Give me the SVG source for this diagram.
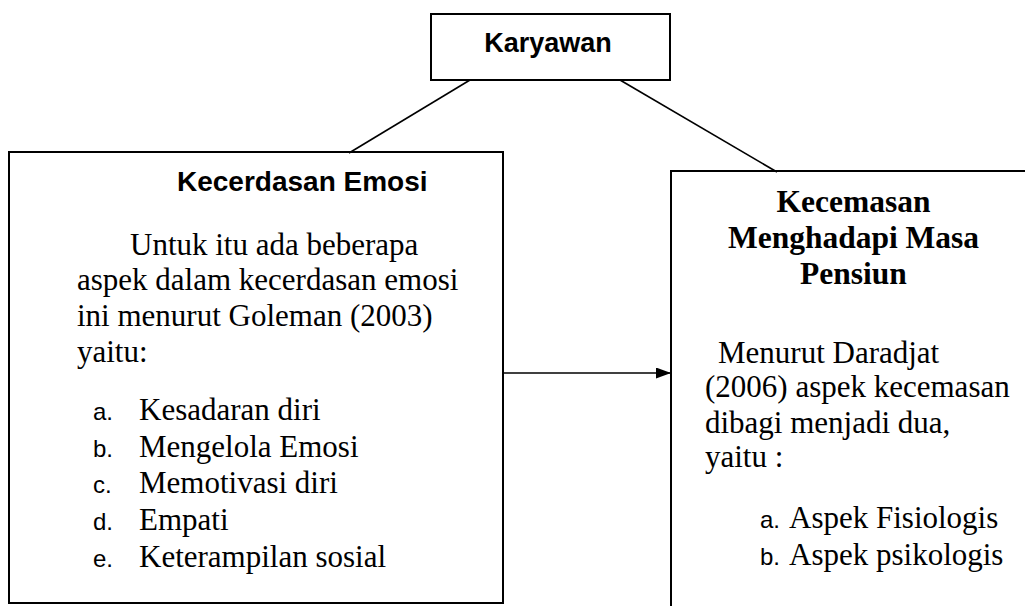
<svg xmlns="http://www.w3.org/2000/svg" width="1025" height="606" viewBox="0 0 1025 606">
<style>
.box{fill:none;stroke:#000;stroke-width:2}
.ln{stroke:#000;stroke-width:1.6;fill:none}
.ha{font-family:"Liberation Sans",Arial,sans-serif;font-weight:bold;fill:#000}
.tm{font-family:"Liberation Serif","Times New Roman",serif;font-size:31px;fill:#000}
.tb{font-family:"Liberation Serif","Times New Roman",serif;font-size:31.5px;font-weight:bold;fill:#000}
.lb{font-family:"Liberation Sans",Arial,sans-serif;font-size:24px;fill:#000}
</style>
<defs>
<marker id="arr" markerWidth="15" markerHeight="11" refX="15" refY="5.5" orient="auto" markerUnits="userSpaceOnUse">
<path d="M0,0 L15,5.5 L0,11 Z" fill="#000"/>
</marker>
</defs>
<rect width="1025" height="606" fill="#fff"/>
<g id="connectors">
<line class="ln" x1="470" y1="80" x2="349" y2="153"/>
<line class="ln" x1="620" y1="80" x2="777" y2="172"/>
<line class="ln" x1="503" y1="373" x2="671" y2="373" marker-end="url(#arr)"/>
</g>
<g id="karyawan">
<rect class="box" x="431" y="14" width="239" height="66"/>
<text class="ha" x="548" y="52" font-size="27" text-anchor="middle">Karyawan</text>
</g>
<g id="kecerdasan-emosi">
<rect class="box" x="9" y="152" width="494" height="451"/>
<text class="ha" x="177" y="191" font-size="28">Kecerdasan Emosi</text>
<text class="tm" x="130" y="255">Untuk itu ada beberapa</text>
<text class="tm" x="77" y="290">aspek dalam kecerdasan emosi</text>
<text class="tm" x="77" y="326">ini menurut Goleman (2003)</text>
<text class="tm" x="77" y="362">yaitu:</text>
<text class="lb" x="93" y="420">a.</text><text class="tm" x="139" y="420">Kesadaran diri</text>
<text class="lb" x="93" y="457">b.</text><text class="tm" x="139" y="457">Mengelola Emosi</text>
<text class="lb" x="93" y="493">c.</text><text class="tm" x="139" y="493">Memotivasi diri</text>
<text class="lb" x="93" y="530">d.</text><text class="tm" x="139" y="530">Empati</text>
<text class="lb" x="93" y="567">e.</text><text class="tm" x="139" y="567">Keterampilan sosial</text>
</g>
<g id="kecemasan">
<rect class="box" x="671" y="171" width="420" height="480"/>
<text class="tb" x="853.5" y="212" text-anchor="middle">Kecemasan</text>
<text class="tb" x="853.5" y="248" text-anchor="middle">Menghadapi Masa</text>
<text class="tb" x="853.5" y="284" text-anchor="middle">Pensiun</text>
<text class="tm" x="718" y="363">Menurut Daradjat</text>
<text class="tm" x="705" y="397">(2006) aspek kecemasan</text>
<text class="tm" x="705" y="433">dibagi menjadi dua,</text>
<text class="tm" x="705" y="467">yaitu :</text>
<text class="lb" x="760" y="528">a.</text><text class="tm" x="789" y="528">Aspek Fisiologis</text>
<text class="lb" x="760" y="565">b.</text><text class="tm" x="789" y="565">Aspek psikologis</text>
</g>
</svg>
